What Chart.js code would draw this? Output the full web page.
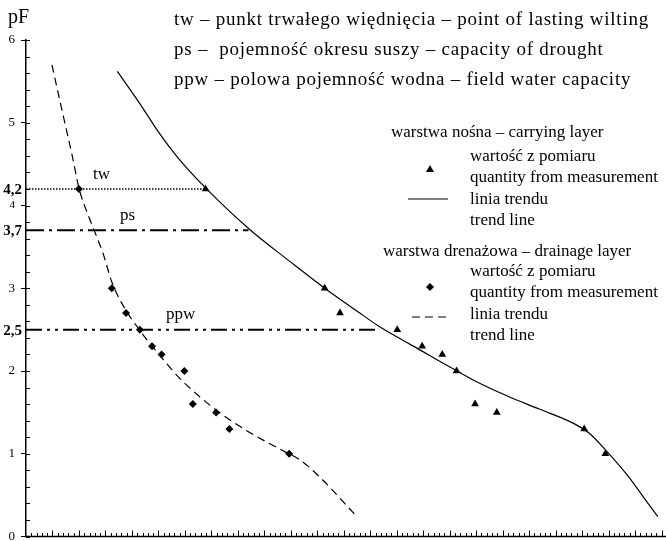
<!DOCTYPE html>
<html>
<head>
<meta charset="utf-8">
<script src="https://cdn.jsdelivr.net/npm/chart.js@4/dist/chart.umd.min.js"></script>
<style>
  html, body { margin: 0; padding: 0; background: #fff; }
  canvas { display: block; }
</style>
</head>
<body>
<canvas id="c" width="666" height="541"></canvas>
<script>
// ---- data (x in arbitrary axis units: 0..120 across the x axis, y = pF) ----
const yTicks = [0, 1, 2, 3, 4, 5, 6];
const levelNames = ['tw', 'ps', 'ppw'];
const levelValues = [4.2, 3.7, 2.5];
const levelLabels = ['4,2', '3,7', '2,5'];
const levelEndX = [34, 42, 66];

// drainage layer (warstwa drenażowa) measurements
const drainX = [10.0, 16.2, 18.9, 21.5, 23.8, 25.6, 29.9, 31.5, 35.9, 38.4, 49.7];
const drainY = [4.2, 3.0, 2.7, 2.5, 2.3, 2.2, 2.0, 1.6, 1.5, 1.3, 1.0];
// drainage trend line
const drainTrendX = [4.9, 6.8, 8.8, 10.0, 12.0, 13.0, 14.5, 16.3, 18.9, 21.4, 23.3, 25.1, 28.9, 32.6, 36.9, 41.4, 45.2, 49.0, 51.4, 53.25, 55.1, 57.0, 58.9, 60.75, 62.6];
const drainTrendY = [5.70, 5.15, 4.58, 4.21, 3.84, 3.68, 3.43, 3.06, 2.73, 2.50, 2.34, 2.20, 1.92, 1.70, 1.48, 1.29, 1.15, 1.02, 0.94, 0.85, 0.74, 0.62, 0.49, 0.36, 0.23];

// carrying layer (warstwa nośna) measurements
const carryX = [33.9, 56.4, 59.3, 70.1, 74.8, 78.6, 81.3, 84.8, 88.9, 105.4, 109.4];
const carryY = [4.2, 3.0, 2.7, 2.5, 2.3, 2.2, 2.0, 1.6, 1.5, 1.3, 1.0];
// carrying trend line
const carryTrendX = [17.25, 21.4, 25.1, 28.9, 34.1, 42.4, 49.5, 56.4, 62.6, 66.4, 70.1, 74.8, 78.6, 81.4, 85.1, 90.8, 96.9, 103.3, 106.3, 109.5, 113.8, 117.0, 119.3];
const carryTrendY = [5.62, 5.24, 4.88, 4.56, 4.20, 3.70, 3.34, 3.00, 2.72, 2.55, 2.41, 2.24, 2.10, 2.00, 1.87, 1.70, 1.54, 1.37, 1.25, 1.04, 0.72, 0.44, 0.24];

const FONT = '"Liberation Serif", "Times New Roman", serif';
const pts = (xs, ys) => xs.map((x, i) => ({ x: x, y: ys[i] }));
const levelDashes = [[1.5, 1.5], [18, 5, 3, 5], [16, 5, 3, 5, 3, 5]];
const levelWidths = [1.6, 2, 2];

const datasets = [];
levelValues.forEach((v, i) => {
  datasets.push({
    label: levelNames[i], type: 'line',
    data: [{ x: 0, y: v }, { x: levelEndX[i], y: v }],
    borderColor: '#000', borderWidth: levelWidths[i], borderDash: levelDashes[i],
    pointRadius: 0, fill: false
  });
});
datasets.push({
  label: 'drainage trend', type: 'line', data: pts(drainTrendX, drainTrendY),
  borderColor: '#000', borderWidth: 1.2, borderDash: [8, 5], pointRadius: 0,
  cubicInterpolationMode: 'monotone', fill: false
});
datasets.push({
  label: 'carrying trend', type: 'line', data: pts(carryTrendX, carryTrendY),
  borderColor: '#000', borderWidth: 1.2, pointRadius: 0,
  cubicInterpolationMode: 'monotone', fill: false
});
datasets.push({
  label: 'drainage', data: pts(drainX, drainY), pointStyle: 'rectRot',
  pointRadius: 4, backgroundColor: '#000', borderColor: '#000', borderWidth: 0, showLine: false
});
datasets.push({
  label: 'carrying', data: pts(carryX, carryY), pointStyle: 'triangle',
  pointRadius: 4.5, backgroundColor: '#000', borderColor: '#000', borderWidth: 0, showLine: false
});

const overlay = {
  id: 'overlay',
  afterDraw(chart) {
    const ctx = chart.ctx;
    const xs = chart.scales.x, ys = chart.scales.y;
    const left = chart.chartArea.left, bottom = chart.chartArea.bottom;
    ctx.save();
    ctx.strokeStyle = '#000';
    ctx.fillStyle = '#000';
    // y minor / inner ticks
    ctx.lineWidth = 1;
    for (let k = 0; k <= 30; k++) {
      const v = k / 5;
      const py = Math.round(ys.getPixelForValue(v)) + 0.5;
      ctx.beginPath();
      ctx.moveTo(left, py);
      ctx.lineTo(left + 4, py);
      ctx.stroke();
    }
    // x axis line and ticks
    ctx.lineWidth = 1.5;
    ctx.beginPath();
    ctx.moveTo(left - 1, bottom);
    ctx.lineTo(chart.width, bottom);
    ctx.stroke();
    ctx.lineWidth = 1;
    for (let k = 1; k <= 120; k++) {
      const px = Math.round(xs.getPixelForValue(k)) + 0.5;
      const h = (k % 5 === 0) ? 6 : 3.5;
      ctx.beginPath();
      ctx.moveTo(px, bottom);
      ctx.lineTo(px, bottom - h);
      ctx.stroke();
    }
    // bold level labels
    ctx.font = 'bold 15px ' + FONT;
    ctx.textAlign = 'right';
    ctx.textBaseline = 'middle';
    levelValues.forEach((v, i) => {
      ctx.fillText(levelLabels[i], 22, ys.getPixelForValue(v) + 1);
    });
    // level names
    ctx.font = '17px ' + FONT;
    ctx.textAlign = 'left';
    ctx.fillText(levelNames[0], 93, 175);
    ctx.fillText(levelNames[1], 120, 216);
    ctx.fillText(levelNames[2], 166, 315);
    // axis title
    ctx.font = '20px ' + FONT;
    ctx.fillText('pF', 8, 18);
    // top explanations
    ctx.font = '19px ' + FONT;
    try { ctx.letterSpacing = '0.75px'; } catch (e) {}
    ctx.fillText('tw – punkt trwałego więdnięcia – point of lasting wilting', 174, 20);
    ctx.fillText('ps –  pojemność okresu suszy – capacity of drought', 174, 50);
    ctx.fillText('ppw – polowa pojemność wodna – field water capacity', 174, 80);
    try { ctx.letterSpacing = '0px'; } catch (e) {}
    // legend
    ctx.font = '17px ' + FONT;
    ctx.fillText('warstwa nośna – carrying layer', 391, 133);
    ctx.fillText('wartość z pomiaru', 470, 157);
    ctx.fillText('quantity from measurement', 470, 178);
    ctx.fillText('linia trendu', 470, 200);
    ctx.fillText('trend line', 470, 221);
    ctx.fillText('warstwa drenażowa – drainage layer', 383, 252);
    ctx.fillText('wartość z pomiaru', 470, 272);
    ctx.fillText('quantity from measurement', 470, 293);
    ctx.fillText('linia trendu', 470, 315);
    ctx.fillText('trend line', 470, 336);
    // legend glyphs
    ctx.beginPath();
    ctx.moveTo(430, 165); ctx.lineTo(434, 172); ctx.lineTo(426, 172); ctx.closePath();
    ctx.fill();
    ctx.lineWidth = 1.2;
    ctx.beginPath(); ctx.moveTo(408, 199); ctx.lineTo(448, 199); ctx.stroke();
    ctx.beginPath();
    ctx.moveTo(430, 283); ctx.lineTo(434, 287); ctx.lineTo(430, 291); ctx.lineTo(426, 287); ctx.closePath();
    ctx.fill();
    ctx.setLineDash([8, 5]);
    ctx.beginPath(); ctx.moveTo(412, 317); ctx.lineTo(451, 317); ctx.stroke();
    ctx.restore();
  }
};

new Chart(document.getElementById('c').getContext('2d'), {
  type: 'scatter',
  data: { datasets: datasets },
  options: {
    responsive: false,
    animation: false,
    layout: { padding: { left: 0, top: 40, right: 0, bottom: 1 } },
    plugins: { legend: { display: false }, tooltip: { enabled: false } },
    scales: {
      x: { type: 'linear', min: 0, max: 120, display: false },
      y: {
        type: 'linear', min: 0, max: 6,
        afterBuildTicks: s => { s.ticks = yTicks.map(v => ({ value: v })); },
        afterFit: s => { s.width = 26; s.paddingTop = 0; s.paddingBottom = 0; },
        ticks: {
          color: '#000', padding: 6,
          font: c => ({ family: FONT, size: (c.tick && c.tick.value === 4) ? 11 : 13 })
        },
        grid: { drawOnChartArea: false, drawTicks: true, tickLength: 5, color: '#000', lineWidth: 1 },
        border: { display: true, color: '#000', width: 1.5 }
      }
    }
  },
  plugins: [overlay]
});
</script>
</body>
</html>
